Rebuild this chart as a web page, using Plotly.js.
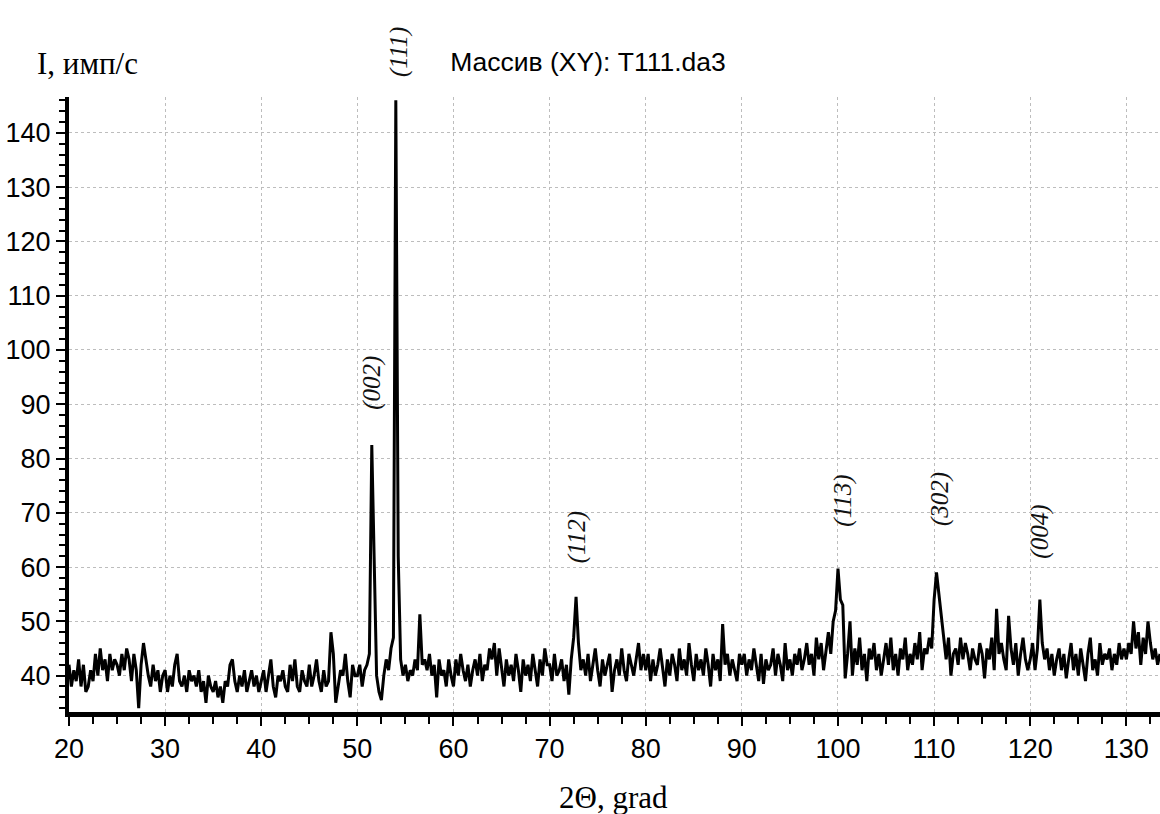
<!DOCTYPE html>
<html>
<head>
<meta charset="utf-8">
<script src="https://cdn.plot.ly/plotly-3.0.1.min.js"></script>
<style>html,body{margin:0;padding:0;background:#fff;}#chart{width:1160px;height:814px;}</style>
</head>
<body>
<div id="chart"></div>
<script>
// Sampling of the scan
const startAngle = 20;
const stepAngle = 0.25;

// Intensity (counts/s), one array per 10-degree block of 2Theta
const seg20 = [42,38,41,39, 43,38,42,37, 38,41,39,44, 40,45,41,43, 39,44,41,43, 42,40,44,41, 45,43,39,44, 41,34,42,46, 43,40,38,42, 39,41,37,40];
const seg30 = [41,37,40,38, 42,44,39,38, 40,37,41,39, 40,38,41,37, 39,35,40,38, 37,39,36,38, 35,39,38,42, 43,39,37,40, 38,41,37,39, 41,38,40,37];
const seg40 = [39,41,37,40, 43,38,36,40, 39,41,38,37, 42,39,43,38, 37,41,39,38, 42,38,40,43, 39,37,41,38, 39,48,44,35, 38,41,40,44, 39,36,42,40];
const seg50 = [40,42,38,41, 42,44,82.5,60, 40,37,35.5,40, 43,41,45,47, 146,62,43,40, 42,39,41,40, 43,41,51.3,42, 43,41,44,40, 42,36,43,40, 41,38,43,40];
const seg60 = [38,43,40,44, 41,39,42,38, 41,43,40,44, 39,42,41,45, 43,46,40,45, 41,38,43,40, 42,39,44,41, 37,43,40,42, 39,44,41,38, 43,40,45,42];
const seg70 = [42,39,44,40, 41,43,39,42, 36.5,43,47,54.5, 46,41,43,40, 44,39,42,45, 41,38,43,40, 42,44,37,41, 43,40,45,41, 39,44,42,40, 43,46,41,44];
const seg80 = [41,44,39,43, 40,42,45,41, 38,43,40,44, 42,39,45,41, 43,40,46,42, 39,44,41,43, 40,45,42,38, 44,41,43,39, 49.5,42,44,40, 43,41,39,44];
const seg90 = [42,44,40,43, 41,45,42,39, 44,38.5,43,41, 42,45,40,44, 42,39,46,41, 43,40,44,42, 45,41,43,46, 42,44,40,47, 43,46,41,45, 48,44,50,52];
const seg100 = [59.7,54,53,39.5, 44,50,40,45, 42,47,41,44, 39,45,43,46, 41,44,40,43, 46,42,47,41, 44,40,45,43, 47,41,44,42, 46,43,48,41, 45,44,47,45];
const seg110 = [54,59,55,50.5, 46,43,47,40, 44,45,42,47, 43,46,44,41, 45,43,42,46, 44,39.5,45,43, 47,41,52.3,44, 46,43,41,51, 45,42,46,40, 44,47,43,41];
const seg120 = [43,46,41,45, 54,46,43,45, 41,44,40,43, 45,41,44,39.5, 43,46,41,44, 40,45,42,39, 44,47,41,43, 40,46,42,44, 43,45,41,44, 42,46,43,45];
const seg130 = [43,46,44,50, 45,48,42,47, 44,50,46,43, 45,42,44];

// Peak indices (Miller) and where they were written on the chart
const peakLabels = ["(002)", "(112)", "(113)", "(302)", "(004)"];
const peakLabelX = [51.5, 72.85, 100.5, 110.6, 121.0];
const peakLabelY = [93.9, 65.5, 72.2, 72.5, 66.5];
// the (111) label sits above the plotting area
const topLabel = "(111)";

const intensity = [].concat(seg20, seg30, seg40, seg50, seg60, seg70, seg80, seg90, seg100, seg110, seg120, seg130);

const trace = {
  type: 'scatter',
  mode: 'lines',
  x0: startAngle,
  dx: stepAngle,
  y: intensity,
  line: {color: '#000', width: 3},
  hoverinfo: 'skip'
};

const handFont = {family: 'Liberation Serif, serif', size: 25, color: '#111', style: 'italic'};
const annotations = peakLabels.map((t, i) => ({
  text: t, x: peakLabelX[i], y: peakLabelY[i], xref: 'x', yref: 'y',
  showarrow: false, textangle: -90, font: handFont,
  xanchor: 'center', yanchor: 'middle'
}));
annotations.push({
  text: topLabel, xref: 'paper', yref: 'paper',
  x: (399 - 69) / 1091, y: 1 + (97 - 52) / 615,
  showarrow: false, textangle: -90, font: handFont,
  xanchor: 'center', yanchor: 'middle'
});
annotations.push({
  text: 'I, имп/с', xref: 'paper', yref: 'paper',
  x: (87 - 69) / 1091, y: 1 + (97 - 63) / 615,
  showarrow: false, xanchor: 'center', yanchor: 'middle',
  font: {family: 'Liberation Serif, serif', size: 31, color: '#000'}
});
annotations.push({
  text: '2Θ, grad', xref: 'paper', yref: 'paper',
  x: (613 - 69) / 1091, y: -(797 - 712) / 615,
  showarrow: false, xanchor: 'center', yanchor: 'middle',
  font: {family: 'Liberation Serif, serif', size: 31, color: '#000'}
});

const tickFont = {family: 'Liberation Sans, Arial, sans-serif', size: 27, color: '#000'};
const layout = {
  width: 1160, height: 814,
  margin: {l: 69, r: 0, t: 97, b: 102},
  paper_bgcolor: '#fff', plot_bgcolor: '#fff',
  showlegend: false,
  title: {
    text: 'Массив (XY): T111.da3',
    font: {family: 'Liberation Sans, Arial, sans-serif', size: 26.5, color: '#000'},
    xref: 'paper', x: (588 - 69) / 1091, xanchor: 'center',
    yref: 'container', y: 1 - 62 / 814, yanchor: 'middle'
  },
  xaxis: {
    range: [20, 133.5], tick0: 0, dtick: 10,
    showline: true, linewidth: 5, linecolor: '#000', mirror: false,
    ticks: 'outside', ticklen: 9, tickwidth: 2, tickcolor: '#000',
    tickfont: tickFont,
    showgrid: true, gridcolor: '#bdbdbd', gridwidth: 1, griddash: 'dot',
    zeroline: false,
    minor: {dtick: 2.5, ticks: 'outside', ticklen: 7, tickwidth: 2, tickcolor: '#000', showgrid: false}
  },
  yaxis: {
    range: [33.3, 146.6], tick0: 0, dtick: 10,
    showline: true, linewidth: 4, linecolor: '#000',
    ticks: 'outside', ticklen: 9, tickwidth: 2, tickcolor: '#000',
    tickfont: tickFont,
    showgrid: true, gridcolor: '#bdbdbd', gridwidth: 1, griddash: 'dot',
    zeroline: false,
    minor: {dtick: 2, ticks: 'outside', ticklen: 6, tickwidth: 2, tickcolor: '#000', showgrid: false}
  },
  annotations: annotations
};

Plotly.newPlot('chart', [trace], layout, {staticPlot: true, displayModeBar: false});
</script>
</body>
</html>
